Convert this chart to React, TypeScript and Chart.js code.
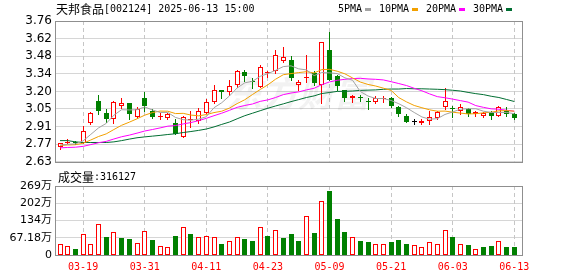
import React, { useEffect, useRef } from 'react';
import { Chart, registerables, BarElement } from 'chart.js';

Chart.register(...registerables);

// Snap bar rectangles to whole pixels so thin hollow bodies stay crisp.
const originalBarDraw = (BarElement.prototype as any).draw;
(BarElement.prototype as any).draw = function (ctx: CanvasRenderingContext2D) {
  const sx = this.x;
  const sy = this.y;
  const sb = this.base;
  this.x = Math.floor(sx) + 0.5;
  this.y = Math.round(sy);
  this.base = Math.round(sb);
  if (this.y === this.base) this.base = this.y + 1;
  originalBarDraw.call(this, ctx);
  this.x = sx;
  this.y = sy;
  this.base = sb;
};

// ---------- texts ----------
const stockName = '天邦食品';
const stockInfo = '[002124] 2025-06-13 15:00';
const volumeName = '成交量';
const volumeText = ':316127';
const watermarkText = '东方财富';

// ---------- data ----------
const dates = [
  '03-14', '03-17', '03-18', '03-19', '03-20', '03-21', '03-24', '03-25', '03-26', '03-27',
  '03-28', '03-31', '04-01', '04-02', '04-03', '04-07', '04-08', '04-09', '04-10', '04-11',
  '04-14', '04-15', '04-16', '04-17', '04-18', '04-21', '04-22', '04-23', '04-24', '04-25',
  '04-28', '04-29', '05-06', '05-07', '05-08', '05-09', '05-12', '05-13', '05-14', '05-15',
  '05-16', '05-19', '05-20', '05-21', '05-22', '05-23', '05-26', '05-27', '05-28', '05-29',
  '05-30', '06-03', '06-04', '06-05', '06-06', '06-09', '06-10', '06-11', '06-12', '06-13',
];

const opens = [
  2.75, 2.78, 2.79, 2.78, 2.94, 3.12, 3.02, 2.97, 3.08, 3.10,
  2.99, 3.14, 3.04, 2.99, 2.98, 2.94, 2.83, 2.965, 2.96, 3.02,
  3.11, 3.21, 3.19, 3.25, 3.35, 3.28, 3.23, 3.34, 3.36, 3.44,
  3.45, 3.25, 3.30, 3.34, 3.25, 3.53, 3.32, 3.21, 3.14, 3.15,
  3.12, 3.11, 3.135, 3.14, 3.07, 3.00, 2.95, 2.94, 2.96, 2.98,
  3.07, 3.06, 3.04, 3.05, 3.01, 3.00, 3.03, 3.00, 3.04, 3.01,
];
const highs = [
  2.78, 2.81, 2.80, 2.92, 3.03, 3.17, 3.05, 3.12, 3.14, 3.10,
  3.07, 3.19, 3.05, 3.02, 3.02, 2.97, 3.00, 3.04, 3.06, 3.13,
  3.25, 3.21, 3.29, 3.37, 3.37, 3.30, 3.41, 3.36, 3.53, 3.55,
  3.48, 3.29, 3.49, 3.36, 3.59, 3.67, 3.33, 3.21, 3.17, 3.17,
  3.14, 3.16, 3.16, 3.15, 3.08, 3.01, 2.97, 2.97, 3.04, 3.04,
  3.22, 3.08, 3.09, 3.06, 3.04, 3.03, 3.04, 3.08, 3.07, 3.02,
];
const lows = [
  2.73, 2.78, 2.77, 2.78, 2.93, 3.01, 2.95, 2.94, 3.06, 2.97,
  2.98, 3.04, 2.98, 2.97, 2.97, 2.85, 2.83, 2.91, 2.94, 3.02,
  3.10, 3.14, 3.17, 3.23, 3.28, 3.22, 3.23, 3.31, 3.34, 3.43,
  3.29, 3.21, 3.27, 3.25, 3.10, 3.29, 3.21, 3.12, 3.11, 3.12,
  3.05, 3.10, 3.11, 3.07, 3.00, 2.95, 2.93, 2.93, 2.93, 2.97,
  3.05, 2.99, 3.01, 3.00, 3.00, 2.99, 2.97, 3.00, 3.00, 2.97,
];
const closes = [
  2.78, 2.79, 2.78, 2.88, 3.02, 3.04, 2.97, 3.11, 3.10, 3.01,
  3.05, 3.08, 2.99, 3.00, 3.01, 2.85, 2.99, 2.97, 3.04, 3.11,
  3.21, 3.19, 3.24, 3.36, 3.32, 3.27, 3.39, 3.35, 3.49, 3.47,
  3.30, 3.27, 3.31, 3.26, 3.59, 3.29, 3.24, 3.14, 3.16, 3.14,
  3.11, 3.14, 3.14, 3.08, 3.01, 2.95, 2.95, 2.96, 2.99, 3.03,
  3.12, 3.05, 3.07, 3.01, 3.03, 3.02, 3.00, 3.07, 3.01, 2.98,
];
const prevCloseBeforeFirst = 2.76;

const ma5 = [
  2.764, 2.770, 2.774, 2.798, 2.850, 2.902, 2.938, 3.004, 3.048, 3.046,
  3.048, 3.070, 3.046, 3.026, 3.026, 2.986, 2.968, 2.964, 2.972, 2.992,
  3.064, 3.104, 3.158, 3.222, 3.264, 3.276, 3.316, 3.338, 3.364, 3.394,
  3.400, 3.376, 3.368, 3.322, 3.346, 3.344, 3.338, 3.304, 3.284, 3.194,
  3.158, 3.138, 3.138, 3.122, 3.096, 3.064, 3.026, 2.990, 2.972, 2.976,
  3.010, 3.030, 3.052, 3.056, 3.056, 3.036, 3.026, 3.026, 3.026, 3.016,
];
const ma10 = [
  2.762, 2.765, 2.767, 2.779, 2.805, 2.833, 2.854, 2.889, 2.923, 2.948,
  2.975, 3.004, 3.025, 3.037, 3.036, 3.017, 3.019, 3.005, 2.999, 3.009,
  3.025, 3.036, 3.061, 3.097, 3.128, 3.170, 3.210, 3.248, 3.293, 3.329,
  3.338, 3.346, 3.353, 3.343, 3.370, 3.372, 3.357, 3.336, 3.303, 3.270,
  3.251, 3.238, 3.221, 3.203, 3.145, 3.111, 3.082, 3.064, 3.047, 3.036,
  3.037, 3.028, 3.021, 3.014, 3.016, 3.023, 3.028, 3.039, 3.041, 3.036,
];
const ma20 = [
  2.742, 2.745, 2.747, 2.754, 2.768, 2.783, 2.794, 2.813, 2.831, 2.844,
  2.860, 2.877, 2.889, 2.902, 2.916, 2.921, 2.934, 2.945, 2.960, 2.979,
  3.000, 3.020, 3.043, 3.067, 3.082, 3.094, 3.115, 3.127, 3.146, 3.169,
  3.182, 3.191, 3.207, 3.220, 3.249, 3.271, 3.284, 3.292, 3.298, 3.300,
  3.295, 3.292, 3.287, 3.273, 3.258, 3.242, 3.220, 3.200, 3.175, 3.153,
  3.144, 3.133, 3.121, 3.109, 3.081, 3.067, 3.055, 3.052, 3.044, 3.036,
];
const ma30 = [
  2.800, 2.800, 2.790, 2.785, 2.785, 2.785, 2.785, 2.790, 2.800, 2.812,
  2.823, 2.830, 2.836, 2.842, 2.849, 2.855, 2.865, 2.873, 2.882, 2.893,
  2.910, 2.930, 2.949, 2.975, 3.000, 3.020, 3.040, 3.060, 3.078, 3.095,
  3.113, 3.129, 3.146, 3.159, 3.178, 3.186, 3.195, 3.196, 3.198, 3.203,
  3.205, 3.207, 3.212, 3.214, 3.214, 3.218, 3.216, 3.216, 3.214, 3.212,
  3.209, 3.204, 3.198, 3.187, 3.177, 3.169, 3.156, 3.146, 3.130, 3.114,
];

// volume in 万
const volumes = [
  42.8, 35, 23.4, 81.8, 42.8, 120.7, 70, 89.6, 66.2, 62.3,
  46.7, 93.5, 58.4, 35, 31.2, 74, 109, 81.8, 70, 74,
  70, 42.8, 54.5, 70, 62.3, 54.5, 109, 74, 97.4, 66.2,
  81.8, 54.5, 151.9, 85.7, 210.3, 250.5, 140.2, 89.6, 68.8, 54.5,
  50.6, 42.8, 42.8, 50.6, 58.4, 42.8, 37.6, 29.9, 50.6, 42.8,
  96, 70, 42.8, 37.6, 22, 31.2, 35, 54.5, 31.2, 31.61,
];

const xTickLabels = ['03-19', '03-31', '04-11', '04-23', '05-09', '05-21', '06-03', '06-13'];
const priceMin = 2.63;
const priceMax = 3.76;
const priceTickLabels = ['2.63', '2.77', '2.91', '3.05', '3.20', '3.34', '3.48', '3.62', '3.76'];
const volMax = 268.72;
const volTickLabels = ['0', '67.18万', '134万', '202万', '269万'];

const maSeries = [
  { name: '5PMA', values: ma5, color: '#a3a3a3' },
  { name: '10PMA', values: ma10, color: '#f2a000' },
  { name: '20PMA', values: ma20, color: '#ff00ff' },
  { name: '30PMA', values: ma30, color: '#006e32' },
];

// ---------- styles ----------
const RED = '#ff0000';
const GREEN = '#008000';
const BLACK = '#000000';
const GRID = '#d6d6d6';
const DASH_GRID = '#c6c6c6';
const FRAME = '#8f8f8f';
const MONO = '"DejaVu Sans Mono", monospace';
const CJK = '"Noto Sans CJK SC", sans-serif';
const X_MIN = -0.65;
const X_MAX = 60;

const tickIdx = xTickLabels.map((d) => dates.indexOf(d));
const priceTickValues = priceTickLabels.map((_, k) => priceMin + (k * (priceMax - priceMin)) / (priceTickLabels.length - 1));
const volTickValues = volTickLabels.map((_, k) => (k * volMax) / (volTickLabels.length - 1));

const candleColor = (i: number) => (closes[i] > opens[i] ? RED : closes[i] < opens[i] ? GREEN : BLACK);
const volUp = (i: number) => closes[i] >= (i === 0 ? prevCloseBeforeFirst : closes[i - 1]);

const dashedGrid = (chart: any) => {
  const { ctx, chartArea, scales } = chart;
  ctx.save();
  ctx.strokeStyle = DASH_GRID;
  ctx.lineWidth = 1;
  ctx.setLineDash([4, 3]);
  for (const t of tickIdx) {
    const px = Math.floor(scales.x.getPixelForValue(t)) + 0.5;
    ctx.beginPath();
    ctx.moveTo(px, chartArea.top);
    ctx.lineTo(px, chartArea.bottom);
    ctx.stroke();
  }
  ctx.restore();
};

const drawFrame = (chart: any) => {
  const { ctx, chartArea } = chart;
  ctx.save();
  ctx.strokeStyle = FRAME;
  ctx.lineWidth = 1;
  const l = Math.round(chartArea.left) + 0.5;
  const t = Math.round(chartArea.top) + 0.5;
  const r = Math.round(chartArea.right) + 0.5;
  const b = Math.round(chartArea.bottom) + 0.5;
  ctx.strokeRect(l, t, r - l, b - t);
  ctx.restore();
};

const pricePlugin = {
  id: 'pricePlugin',
  beforeDatasetsDraw(chart: any) {
    dashedGrid(chart);
    const { ctx, scales } = chart;
    // watermark
    ctx.save();
    ctx.fillStyle = 'rgba(0,0,0,0.05)';
    ctx.font = `italic bold 36px ${CJK}`;
    ctx.textBaseline = 'alphabetic';
    ctx.fillText(watermarkText, 226, 107);
    ctx.restore();
    // wicks
    ctx.save();
    ctx.lineWidth = 1;
    for (let i = 0; i < closes.length; i++) {
      const px = Math.floor(scales.x.getPixelForValue(i)) + 0.5;
      ctx.strokeStyle = candleColor(i);
      ctx.beginPath();
      ctx.moveTo(px, Math.round(scales.y.getPixelForValue(highs[i])));
      ctx.lineTo(px, Math.round(scales.y.getPixelForValue(lows[i])) + 1);
      ctx.stroke();
    }
    ctx.restore();
  },
  afterDraw(chart: any) {
    drawFrame(chart);
    const { ctx } = chart;
    ctx.save();
    ctx.fillStyle = '#000';
    ctx.textBaseline = 'middle';
    ctx.font = `12px ${CJK}`;
    ctx.fillText(stockName, 56, 9);
    const w = ctx.measureText(stockName).width;
    ctx.font = `10px ${MONO}`;
    ctx.fillText(stockInfo, 56 + w, 9.5);
    // legend
    let x = 338;
    for (const s of maSeries) {
      ctx.fillStyle = '#000';
      ctx.fillText(s.name, x, 9.5);
      const tw = ctx.measureText(s.name).width;
      const sx = Math.round(x + tw + 3);
      ctx.fillStyle = s.color;
      ctx.fillRect(sx, 8, 6, 3);
      x = sx + 6 + 8;
    }
    ctx.restore();
  },
};

const volumePlugin = {
  id: 'volumePlugin',
  beforeDatasetsDraw(chart: any) {
    dashedGrid(chart);
  },
  afterDraw(chart: any) {
    drawFrame(chart);
    const { ctx } = chart;
    ctx.save();
    ctx.fillStyle = '#000';
    ctx.textBaseline = 'middle';
    ctx.font = `12px ${CJK}`;
    ctx.fillText(volumeName, 58, 7);
    const w = ctx.measureText(volumeName).width;
    ctx.font = `10px ${MONO}`;
    ctx.fillText(volumeText, 58 + w, 7.5);
    ctx.restore();
  },
};

export default function App() {
  const priceRef = useRef<HTMLCanvasElement>(null);
  const volRef = useRef<HTMLCanvasElement>(null);

  useEffect(() => {
    const priceChart = new Chart(priceRef.current as HTMLCanvasElement, {
      type: 'bar',
      data: {
        datasets: [
          ...maSeries.map((s) => ({
            type: 'line' as const,
            label: s.name,
            data: s.values.map((v, i) => ({ x: i, y: v })),
            borderColor: s.color,
            borderWidth: 1,
            pointRadius: 0,
            tension: 0,
            fill: false,
            order: 0,
          })),
          {
            type: 'bar' as const,
            label: 'K',
            data: opens.map((o, i) => ({ x: i, y: [o, closes[i]] })) as any,
            backgroundColor: closes.map((c, i) => (c > opens[i] ? '#ffffff' : candleColor(i))),
            borderColor: closes.map((_, i) => candleColor(i)),
            borderWidth: 1,
            borderSkipped: false,
            barThickness: 5,
            minBarLength: 1,
            grouped: false,
            inflateAmount: 0,
            order: 1,
          },
        ],
      } as any,
      options: {
        responsive: false,
        animation: false,
        events: [],
        layout: { padding: { left: 0, right: 56, top: 21, bottom: 7 } },
        plugins: { legend: { display: false }, tooltip: { enabled: false } },
        scales: {
          x: { type: 'linear', display: false, min: X_MIN, max: X_MAX, offset: false },
          y: {
            type: 'linear',
            position: 'left',
            min: priceMin,
            max: priceMax,
            afterBuildTicks: (s: any) => {
              s.ticks = priceTickValues.map((v) => ({ value: v }));
            },
            afterFit: (s: any) => {
              s.width = 55;
            },
            ticks: {
              callback: (_v: any, i: number) => priceTickLabels[i],
              font: { family: '"DejaVu Sans", sans-serif', size: 12 },
              color: '#000',
              padding: 3,
            },
            grid: { color: GRID, drawTicks: false },
            border: { display: false },
          },
        },
      } as any,
      plugins: [pricePlugin],
    });

    const volChart = new Chart(volRef.current as HTMLCanvasElement, {
      type: 'bar',
      data: {
        datasets: [
          {
            label: volumeName,
            data: volumes.map((v, i) => ({ x: i, y: v })) as any,
            backgroundColor: volumes.map((_, i) => (volUp(i) ? '#ffffff' : GREEN)),
            borderColor: volumes.map((_, i) => (volUp(i) ? RED : GREEN)),
            borderWidth: 1,
            borderSkipped: false,
            barThickness: 5,
            grouped: false,
            inflateAmount: 0,
          },
        ],
      } as any,
      options: {
        responsive: false,
        animation: false,
        events: [],
        layout: { padding: { left: 0, right: 56, top: 16, bottom: 0 } },
        plugins: { legend: { display: false }, tooltip: { enabled: false } },
        scales: {
          x: {
            type: 'linear',
            min: X_MIN,
            max: X_MAX,
            offset: false,
            afterBuildTicks: (s: any) => {
              s.ticks = tickIdx.map((v) => ({ value: v }));
            },
            afterFit: (s: any) => {
              s.height = 21;
            },
            ticks: {
              callback: (v: any) => dates[v],
              autoSkip: false,
              maxRotation: 0,
              color: RED,
              font: { family: MONO, size: 10 },
              padding: -2,
            },
            grid: { display: false },
            border: { display: false },
          },
          y: {
            type: 'linear',
            position: 'left',
            min: 0,
            max: volMax,
            afterBuildTicks: (s: any) => {
              s.ticks = volTickValues.map((v) => ({ value: v }));
            },
            afterFit: (s: any) => {
              s.width = 55;
            },
            ticks: {
              callback: (_v: any, i: number) => volTickLabels[i],
              font: { family: '"DejaVu Sans", "Noto Sans CJK SC", sans-serif', size: 11 },
              color: '#000',
              padding: 3,
            },
            grid: { color: GRID, drawTicks: false },
            border: { display: false },
          },
        },
      } as any,
      plugins: [volumePlugin],
    });

    return () => {
      priceChart.destroy();
      volChart.destroy();
    };
  }, []);

  return (
    <div style={{ position: 'fixed', left: 0, top: 0, width: 578, height: 276, background: '#ffffff' }}>
      <canvas
        ref={priceRef}
        width={578}
        height={172}
        style={{ position: 'absolute', left: 0, top: 0, width: 578, height: 172 }}
      />
      <canvas
        ref={volRef}
        width={578}
        height={106}
        style={{ position: 'absolute', left: 0, top: 170, width: 578, height: 106 }}
      />
    </div>
  );
}
